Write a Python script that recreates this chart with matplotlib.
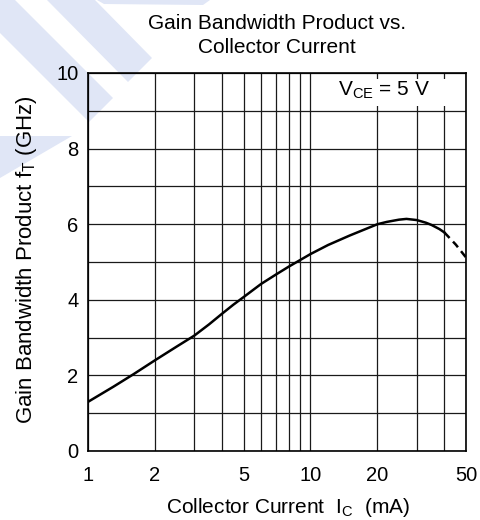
import matplotlib
matplotlib.use("Agg")
import matplotlib.pyplot as plt
from matplotlib.patches import Polygon, Rectangle
import matplotlib.ticker as mticker

plt.rcParams["font.family"] = ["Liberation Sans", "DejaVu Sans"]
plt.rcParams["mathtext.fontset"] = "custom"
plt.rcParams["mathtext.rm"] = "Liberation Sans"
plt.rcParams["mathtext.it"] = "Liberation Sans"

# data
current_solid = [1, 1.3, 1.6, 2, 2.5, 3, 3.5, 4, 4.5, 5, 6, 7, 8, 10, 12, 15,
                 20, 22, 25, 27, 30, 33, 35, 38, 40]
ft_solid = [1.30, 1.70, 2.03, 2.40, 2.76, 3.05, 3.35, 3.63, 3.87, 4.07, 4.42, 4.67,
            4.88, 5.21, 5.45, 5.70, 6.0, 6.06, 6.12, 6.14, 6.11, 6.04, 5.98, 5.87, 5.78]
current_dashed = [40, 45, 50]
ft_dashed = [5.78, 5.46, 5.12]

x_ticks = [1, 2, 5, 10, 20, 50]
x_minor = [3, 4, 6, 7, 8, 9, 30, 40]
y_ticks = [0, 2, 4, 6, 8, 10]
y_minor = [1, 3, 5, 7, 9]

W, H = 481, 520
fig = plt.figure(figsize=(W / 100, H / 100), dpi=100)

# light blue watermark stripes (pixel coords, origin top-left)
wm_color = "#e0e6f6"
stripes = [
    [(47, 0), (95, 0), (152, 58), (128, 82)],
    [(0, 0), (15, 0), (113, 98), (89, 122), (0, 33)],
    [(97, 0), (210, 0), (203, 5), (104, 4)],
    [(0, 136), (72, 136), (0, 178)],
]
for pts in stripes:
    fig.patches.append(Polygon([(x / W, 1 - y / H) for x, y in pts], closed=True,
                               transform=fig.transFigure, facecolor=wm_color,
                               edgecolor="none", zorder=-5))

ax = fig.add_axes([88 / W, 1 - 451 / H, 378 / W, 378 / H])
ax.set_facecolor("none")
ax.set_xscale("log")
ax.set_xlim(1, 50)
ax.set_ylim(0, 10)

ax.xaxis.set_major_locator(mticker.FixedLocator(x_ticks))
ax.xaxis.set_major_formatter(mticker.FixedFormatter([str(t) for t in x_ticks]))
ax.xaxis.set_minor_locator(mticker.FixedLocator(x_minor))
ax.xaxis.set_minor_formatter(mticker.NullFormatter())
ax.yaxis.set_major_locator(mticker.FixedLocator(y_ticks))
ax.yaxis.set_minor_locator(mticker.FixedLocator(y_minor))

ax.grid(True, which="both", color="#1a1a1a", linewidth=0.9)
ax.tick_params(which="both", length=0, labelsize=14.5)
ax.tick_params(axis="x", pad=11)
ax.tick_params(axis="y", pad=7)
for s in ax.spines.values():
    s.set_linewidth(1.2)

ax.plot(current_solid, ft_solid, color="black", linewidth=1.8, zorder=3,
        solid_joinstyle="round")
ax.plot(current_dashed, ft_dashed, color="black", linewidth=1.8,
        linestyle=(0, (3.0, 2.0)), zorder=3)

# condition label on white box
ax.add_patch(Rectangle((0.635, 0.913), 0.345, 0.071, transform=ax.transAxes,
                       facecolor="white", edgecolor="none", zorder=2.5))
ax.text(0.783, 0.955, r"V$_{\mathrm{CE}}$ = 5 V", transform=ax.transAxes,
        ha="center", va="center", fontsize=15, zorder=4)

fig.text(277 / W, 1 - 29 / H, "Gain Bandwidth Product vs.", ha="center",
         va="baseline", fontsize=15)
fig.text(277 / W, 1 - 53 / H, "Collector Current", ha="center", va="baseline",
         fontsize=15)
fig.text(287.5 / W, 1 - 513 / H, r"Collector Current  I$_{\mathrm{C}}$  (mA)",
         ha="center", va="baseline", fontsize=15)
fig.text(27 / W, 1 - 260 / H, r"Gain Bandwidth Product f$_{\mathrm{T}}$ (GHz)",
         ha="center", va="center", rotation=90, fontsize=16)

fig.savefig("out.png", dpi=100)
